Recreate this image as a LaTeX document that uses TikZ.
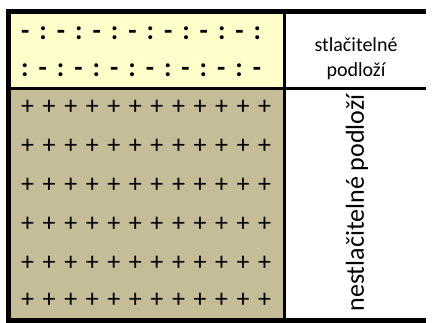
\documentclass[tikz,border=0pt]{standalone}
\usepackage{fontspec}
\setmainfont{Carlito}
\definecolor{softyellow}{RGB}{255,255,204}
\definecolor{tan}{RGB}{196,189,151}
\tikzset{
  thickrule/.style={line width=5pt},
  thinrule/.style={line width=3pt},
  symrow/.style={anchor=west, inner sep=0pt, font=\fontsize{27}{27}\selectfont\bfseries},
  plusrow/.style={anchor=west, inner sep=0pt, font=\fontsize{26}{26}\selectfont},
  label/.style={inner sep=0pt, font=\fontsize{20}{25}\selectfont, align=center},
}
\begin{document}
\begin{tikzpicture}[x=1pt,y=-1pt]
\useasboundingbox (0,0) rectangle (432,323);
\fill[white] (0,0) rectangle (432,323);
% fills
\fill[softyellow] (11,14) rectangle (283,87);
\fill[tan] (11,90) rectangle (283,318);
% compressible layer symbols
\node[symrow] (r1) at (21,33) {\hbox to 240pt{-\hfil:\hfil-\hfil:\hfil-\hfil:\hfil-\hfil:\hfil-\hfil:\hfil-\hfil:\hfil-\hfil:}};
\node[symrow] (r2) at (21,70) {\hbox to 240pt{:\hfil-\hfil:\hfil-\hfil:\hfil-\hfil:\hfil-\hfil:\hfil-\hfil:\hfil-\hfil:\hfil-}};
% incompressible layer symbols
\foreach \yy [count=\i] in {107,146,185,224,263,300}{
  \node[plusrow] (p\i) at (21,\yy) {\hbox to 250pt{+\hfil+\hfil+\hfil+\hfil+\hfil+\hfil+\hfil+\hfil+\hfil+\hfil+\hfil+}};
}
% table rules
\draw[thickrule] (6,11.5) -- (426,11.5);
\draw[thickrule] (6,321) -- (426,321);
\draw[thickrule] (8.5,9) -- (8.5,323);
\draw[thinrule] (284.5,14) -- (284.5,318);
\draw[thinrule] (11,88.5) -- (426,88.5);
% labels
\node[label, anchor=base] (t1) at (356,52) {stlačitelné};
\node[label, anchor=base] (t2) at (356,77) {podloží};
\node[rotate=90, inner sep=0pt, font=\fontsize{26}{26}\selectfont] (t3) at (357,203) {nestlačitelné podloží};
\end{tikzpicture}
\end{document}
